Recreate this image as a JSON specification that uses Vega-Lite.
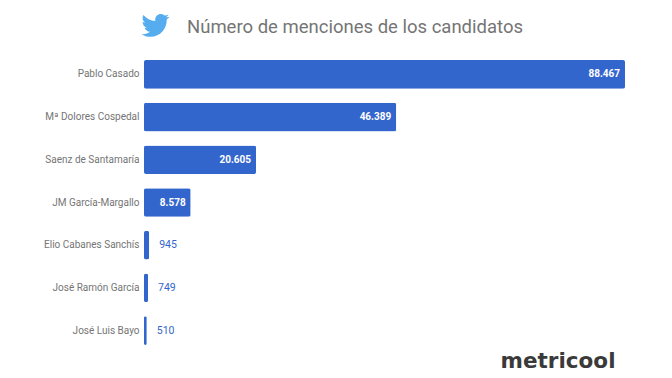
{
  "$schema": "https://vega.github.io/schema/vega-lite/v6.json",
  "width": 481,
  "height": 299,
  "autosize": {"type": "none"},
  "padding": {"left": 144, "top": 53, "right": 47, "bottom": 26},
  "background": "white",
  "view": {"stroke": null},
  "title": {
    "text": "Número de menciones de los candidatos",
    "anchor": "start",
    "frame": "group",
    "dx": 43,
    "offset": -22,
    "font": "Roboto",
    "fontSize": 18.5,
    "fontWeight": "normal",
    "color": "#757575"
  },
  "data": {"values": [
    {"candidato": "Pablo Casado", "menciones": 88467, "etiqueta": "88.467"},
    {"candidato": "Mª Dolores Cospedal", "menciones": 46389, "etiqueta": "46.389"},
    {"candidato": "Saenz de Santamaría", "menciones": 20605, "etiqueta": "20.605"},
    {"candidato": "JM García-Margallo", "menciones": 8578, "etiqueta": "8.578"},
    {"candidato": "Elio Cabanes Sanchís", "menciones": 945, "etiqueta": "945"},
    {"candidato": "José Ramón García", "menciones": 749, "etiqueta": "749"},
    {"candidato": "José Luis Bayo", "menciones": 510, "etiqueta": "510"}
  ]},
  "encoding": {
    "y": {
      "field": "candidato",
      "type": "nominal",
      "sort": null,
      "scale": {"paddingInner": 0.33, "paddingOuter": 0.165},
      "axis": {
        "title": null,
        "ticks": false,
        "domain": false,
        "grid": false,
        "labelFont": "Roboto",
        "labelFontSize": 10,
        "labelColor": "#757575",
        "labelPadding": 5
      }
    },
    "x": {
      "field": "menciones",
      "type": "quantitative",
      "scale": {"domain": [0, 88467], "nice": false},
      "axis": {
        "title": "metricool",
        "titleFont": "DejaVu Sans",
        "titleFontSize": 21.5,
        "titleFontWeight": "bold",
        "titleColor": "#3a3a3a",
        "titleX": 471,
        "titleY": 15,
        "titleAlign": "right",
        "titleBaseline": "alphabetic",
        "labels": false,
        "ticks": false,
        "domain": false,
        "grid": false
      }
    }
  },
  "layer": [
    {"mark": {"type": "bar", "color": "#3366cc", "cornerRadius": 2}},
    {
      "transform": [{"filter": "datum.menciones > 5000"}],
      "mark": {"type": "text", "align": "right", "dx": -5, "font": "Roboto", "fontSize": 10, "fontWeight": "bold", "color": "#ffffff"},
      "encoding": {"text": {"field": "etiqueta"}}
    },
    {
      "transform": [{"filter": "datum.menciones <= 5000"}],
      "mark": {"type": "text", "align": "left", "dx": 10, "font": "Roboto", "fontSize": 10.5, "color": "#3366cc"},
      "encoding": {"text": {"field": "etiqueta"}}
    },
    {
      "transform": [{"filter": "datum.menciones == 88467"}],
      "mark": {
        "type": "point",
        "filled": true,
        "color": "#55acee",
        "opacity": 1,
        "size": 784,
        "yOffset": -49,
        "shape": "M1 -0.618L0.761 -0.554L0.941 -0.782L0.68 -0.683C0.608 -0.758 0.5 -0.808 0.381 -0.808C0.158 -0.808 -0.021 -0.625 -0.021 -0.4L-0.01 -0.308C-0.358 -0.325 -0.661 -0.489 -0.863 -0.737C-0.9 -0.675 -0.919 -0.604 -0.919 -0.53C-0.919 -0.388 -0.847 -0.263 -0.737 -0.189L-0.922 -0.241L-0.922 -0.236C-0.922 -0.037 -0.781 0.129 -0.593 0.167L-0.777 0.173C-0.725 0.338 -0.575 0.454 -0.394 0.458C-0.533 0.567 -0.708 0.633 -0.903 0.633L-1 0.628C-0.818 0.744 -0.603 0.813 -0.37 0.813C0.383 0.813 0.797 0.188 0.797 -0.353L0.795 -0.406C0.875 -0.464 0.944 -0.535 1 -0.618Z"
      },
      "encoding": {"x": {"datum": 2115}}
    }
  ]
}
